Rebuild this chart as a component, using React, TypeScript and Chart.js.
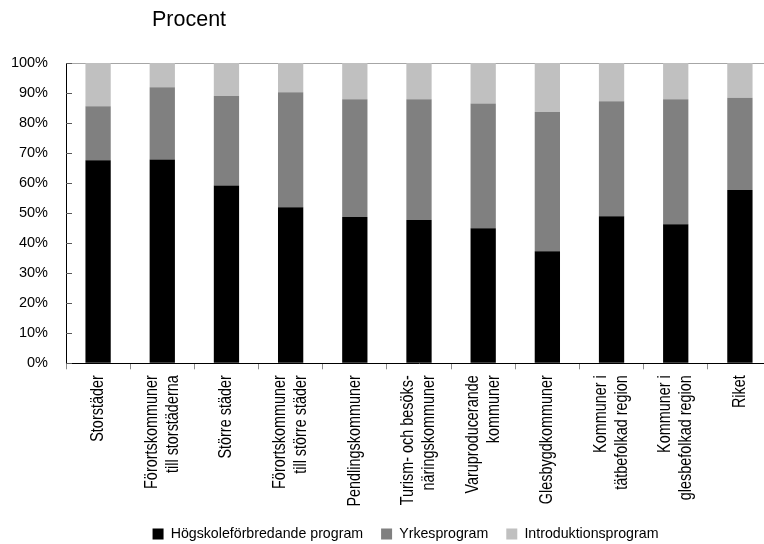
import React, { useEffect, useRef } from "react";
import { Chart, registerables } from "chart.js";

Chart.register(...registerables);

const TITLE = "Procent";

const categories: string[][] = [
  ["Storstäder"],
  ["Förortskommuner", "till storstäderna"],
  ["Större städer"],
  ["Förortskommuner", "till större städer"],
  ["Pendlingskommuner"],
  ["Turism- och besöks-", "näringskommuner"],
  ["Varuproducerande", "kommuner"],
  ["Glesbygdkommuner"],
  ["Kommuner i", "tätbefolkad region"],
  ["Kommuner i", "glesbefolkad region"],
  ["Riket"],
];

const hogskole = [67.6, 67.9, 59.2, 52.0, 48.7, 47.7, 45.0, 37.3, 49.0, 46.3, 57.7];
const yrkes = [18.0, 24.0, 29.8, 38.3, 39.2, 40.2, 41.5, 46.4, 38.3, 41.6, 30.7];
const intro = [14.4, 8.1, 11.0, 9.7, 12.1, 12.1, 13.5, 16.3, 12.7, 12.1, 11.6];

const seriesNames = ["Högskoleförbredande program", "Yrkesprogram", "Introduktionsprogram"];
const seriesColors = ["#000000", "#808080", "#c0c0c0"];

const FONT = '"Liberation Sans", Arial, sans-serif';

const decor = {
  id: "decor",
  afterDraw(chart: any) {
    const { ctx, chartArea, scales } = chart;
    const x = scales.x;
    const y = scales.y;
    ctx.save();
    // inside tick marks on the y axis
    ctx.strokeStyle = "#595959";
    ctx.lineWidth = 1;
    y.ticks.forEach((t: any) => {
      const py = Math.round(y.getPixelForValue(t.value)) + 0.5;
      ctx.beginPath();
      ctx.moveTo(chartArea.left, py);
      ctx.lineTo(chartArea.left + 6, py);
      ctx.stroke();
    });
    // rotated, condensed category labels, multi-line centred on the category
    ctx.font = `18px ${FONT}`;
    ctx.fillStyle = "#000";
    ctx.textAlign = "right";
    ctx.textBaseline = "middle";
    categories.forEach((lines, i) => {
      const px = x.getPixelForValue(i);
      lines.forEach((ln, j) => {
        const cx = px + (j - (lines.length - 1) / 2) * 21;
        ctx.save();
        ctx.translate(cx, x.top + 12);
        ctx.rotate(-Math.PI / 2);
        ctx.scale(0.8, 1);
        ctx.fillText(ln, 0, 0);
        ctx.restore();
      });
    });
    // title
    ctx.font = `21.5px ${FONT}`;
    ctx.textAlign = "left";
    ctx.textBaseline = "alphabetic";
    ctx.fillText(TITLE, chartArea.left + 86, 26);
    ctx.restore();
  },
};

export default function App() {
  const ref = useRef<HTMLCanvasElement | null>(null);

  useEffect(() => {
    if (!ref.current) return;
    const values = [hogskole, yrkes, intro];
    const chart = new Chart(ref.current, {
      type: "bar",
      data: {
        labels: categories.map((c) => c.join(" ")),
        datasets: seriesNames.map((name, k) => ({
          label: name,
          data: values[k],
          backgroundColor: seriesColors[k],
          borderWidth: 0,
          categoryPercentage: 1,
          barPercentage: 0.394,
        })),
      },
      options: {
        responsive: false,
        animation: false,
        layout: { padding: { top: 63, left: 0, right: 0, bottom: 0 } },
        plugins: {
          title: { display: false },
          tooltip: { enabled: false },
          legend: {
            position: "bottom",
            labels: {
              boxWidth: 11,
              boxHeight: 11,
              padding: 18,
              color: "#000",
              font: { family: FONT, size: 14.2 },
            },
          },
        },
        scales: {
          x: {
            stacked: true,
            grid: {
              offset: true,
              drawOnChartArea: false,
              drawTicks: true,
              tickLength: 6,
              tickColor: "#8c8c8c",
              color: "#8c8c8c",
            },
            border: { display: true, color: "#000", width: 1 },
            ticks: { display: false },
            afterFit: (s: any) => {
              s.height = 145.5;
            },
          },
          y: {
            stacked: true,
            min: 0,
            max: 100,
            grid: {
              drawTicks: false,
              color: (c: any) => (c.tick && c.tick.value === 100 ? "#a6a6a6" : "rgba(0,0,0,0)"),
            },
            border: { display: true, color: "#000", width: 1 },
            ticks: {
              stepSize: 10,
              padding: 18,
              color: "#000",
              font: { family: FONT, size: 14.5 },
              callback: (v: any) => `${v}%`,
            },
            afterFit: (s: any) => {
              s.width = 66;
            },
          },
          y2: {
            position: "right",
            display: true,
            grid: { display: false },
            border: { display: false },
            ticks: { display: false },
            afterFit: (s: any) => {
              s.width = 39;
            },
          },
        },
      },
      plugins: [decor],
    });
    return () => chart.destroy();
  }, []);

  return (
    <div
      style={{
        position: "fixed",
        left: 0,
        top: 0,
        width: 764,
        height: 544,
        overflow: "hidden",
        background: "#fff",
      }}
    >
      <canvas ref={ref} width={811} height={551} style={{ display: "block" }} />
    </div>
  );
}
